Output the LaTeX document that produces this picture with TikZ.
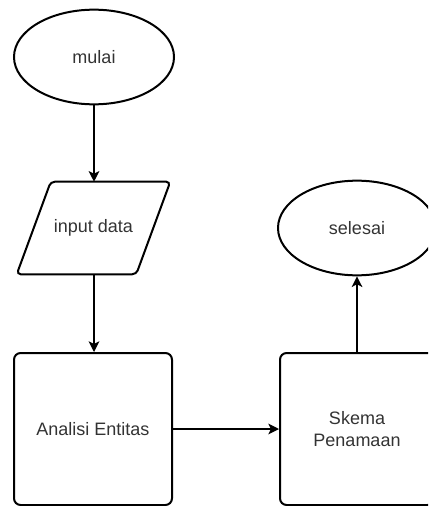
\documentclass[tikz,border=0pt]{standalone}
\usepackage{fontspec}
\setmainfont{Liberation Sans}
\usepackage{tikz}
\definecolor{labelGray}{RGB}{51, 51, 51}
\usetikzlibrary{shapes.geometric, arrows.meta, positioning}
\tikzset{
  terminal/.style={draw, line width=1.5pt, ellipse, minimum width=120pt, minimum height=71pt, font=\fontsize{13.5}{16}\selectfont, text=labelGray},
  iotext/.style={minimum width=114.75pt, minimum height=69pt, font=\fontsize{13.5}{16}\selectfont, text=labelGray},
  ioedge/.style={line width=1.5pt, rounded corners=3pt},
  procbox/.style={draw, line width=1.5pt, rounded corners=5pt, minimum height=114pt, align=center, font=\fontsize{13.5}{16}\selectfont, text=labelGray},
  flow/.style={draw, line width=1pt, -{Stealth[length=8pt, width=8pt, inset=2pt]}}
}

\begin{document}
\begin{tikzpicture}[x=0.75pt, y=-0.75pt]
        \clip (0,0) rectangle (428,506);
        \node[terminal] (mulai) at (94,57) {mulai};
        \node[iotext] (inp) at (93.5,228) {input data};
        \draw[ioedge] ([xshift=25.5pt]inp.north west) -- (inp.north east)
          -- ([xshift=-25.5pt]inp.south east) -- (inp.south west) -- cycle;
        \node[procbox, minimum width=118.5pt] (ana) at (93,429) {Analisi Entitas};
        \node[procbox, minimum width=115.5pt] (skema) at (357,429) {Skema\\Penamaan};
        \node[terminal, minimum width=118.5pt] (selesai) at (357,228) {selesai};
        \draw[flow] (mulai.south) -- (mulai.south |- inp.north);
        \draw[flow] (mulai.south |- inp.south) -- (mulai.south |- ana.north);
        \draw[flow] (ana.east) -- (skema.west);
        \draw[flow] (skema.north) -- (selesai.south);
    \end{tikzpicture}
\end{document}
